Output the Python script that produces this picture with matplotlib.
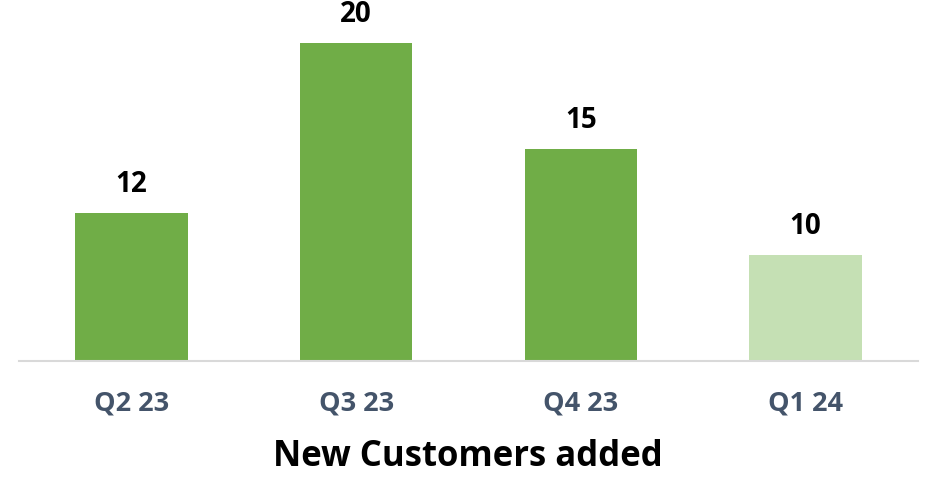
import matplotlib
matplotlib.use("Agg")
import matplotlib.pyplot as plt

# data
quarters = ["Q2 23", "Q3 23", "Q4 23", "Q1 24"]
customers = [12, 20, 15, 10]
bar_colors = ["#70AD47", "#70AD47", "#70AD47", "#C5E0B4"]

plt.rcParams['font.family'] = ['Open Sans', 'DejaVu Sans']

fig = plt.figure(figsize=(9.28, 4.83), dpi=100)
ax = fig.add_axes([19 / 928, 122 / 483, 899 / 928, 360 / 483])

x = range(len(quarters))
bars = ax.bar(x, customers, width=0.5, color=bar_colors)

# value labels above bars
for b, v in zip(bars, customers):
    ax.annotate(str(v), (b.get_x() + b.get_width() / 2, v),
                xytext=(0, 20.5), textcoords="offset points",
                ha="center", va="center", fontsize=20, fontweight="bold", color="black")

ax.set_xlim(-0.5, 3.5)
ax.set_ylim(5, 22)
ax.set_xticks(list(x))
ax.set_xticklabels(quarters, fontsize=19.5, fontweight="bold", color="#44546A")
ax.tick_params(axis="x", length=0, pad=21)
ax.set_yticks([])

for s in ["top", "right", "left"]:
    ax.spines[s].set_visible(False)
ax.spines["bottom"].set_color("#D9D9D9")
ax.spines["bottom"].set_linewidth(1.5)

fig.text(468 / 928, 1 - 457 / 483, "New Customers added", ha="center", va="center",
         fontsize=25, fontweight="bold", color="black")

fig.savefig("out.png", dpi=100)
